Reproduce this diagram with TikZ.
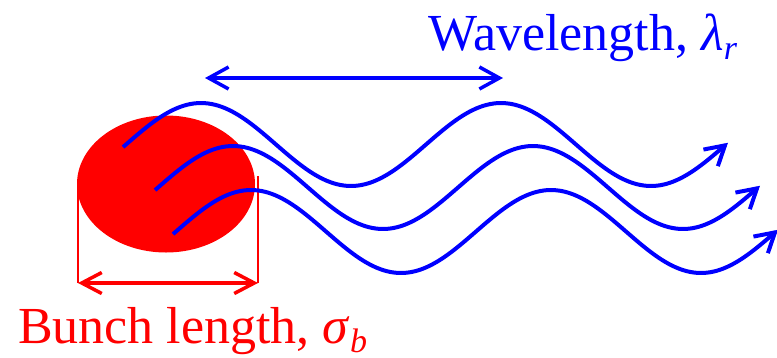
\documentclass[tikz,border=0pt]{standalone}
\usepackage{fontspec}
\newfontfamily\timesfont{Liberation Serif}
\usepackage{tikz}
\usetikzlibrary{arrows.meta, shapes.geometric}

\newcommand{\lowsub}[1]{\raisebox{-9pt}{\fontsize{34}{34}\selectfont\itshape #1}}

\tikzset{
  bunch/.style={ellipse, fill=red, minimum width=178pt, minimum height=137pt, inner sep=0pt},
  extline/.style={red, line width=2.2pt},
  dimred/.style={red, line width=3.5pt, {Straight Barb[length=20pt,width=21pt]}-{Straight Barb[length=20pt,width=21pt]}},
  dimblue/.style={blue, line width=3.5pt, {Straight Barb[length=20pt,width=22pt]}-{Straight Barb[length=20pt,width=22pt]}},
  wave/.style={blue, line width=4pt, -{Straight Barb[length=19pt,width=22pt]}},
  bigtext/.style={inner sep=0pt, font=\timesfont\fontsize{52}{60}\selectfont}
}

\begin{document}
\begin{tikzpicture}[x=1pt, y=-1pt]
\useasboundingbox (0,0) rectangle (777,357);

% electron bunch and its length
\node[bunch] (bunch) at (166,184) {};
\coordinate (lenL) at (78,283);
\coordinate (lenR) at (258,283);
\coordinate (topR) at (258,176);
\draw[extline] (lenL) -- (lenL |- bunch.west);
\draw[extline] (topR) -- (lenR);
\draw[dimred] (lenL) -- (lenR);

% radiated waves, same shape shifted
\foreach \dx/\dy in {0/0, 32/43, 50/87}{
  \draw[wave, shift={(\dx,\dy)}] plot[domain=123:728, samples=90, smooth] (\x, {144.5-41.5*cos(1.2*(\x-201))});
}

% one wavelength
\coordinate (lamL) at (205,78);
\coordinate (lamR) at (503,78);
\draw[dimblue] (lamL) -- (lamR);

% labels
\node[bigtext, blue, anchor=base west] (lamtext) at (428,50) {Wavelength, \textit{λ}\lowsub{r}};
\node[bigtext, red, anchor=base west] (sigtext) at (18,343) {Bunch length, \textit{σ}\lowsub{b}};
\end{tikzpicture}
\end{document}
